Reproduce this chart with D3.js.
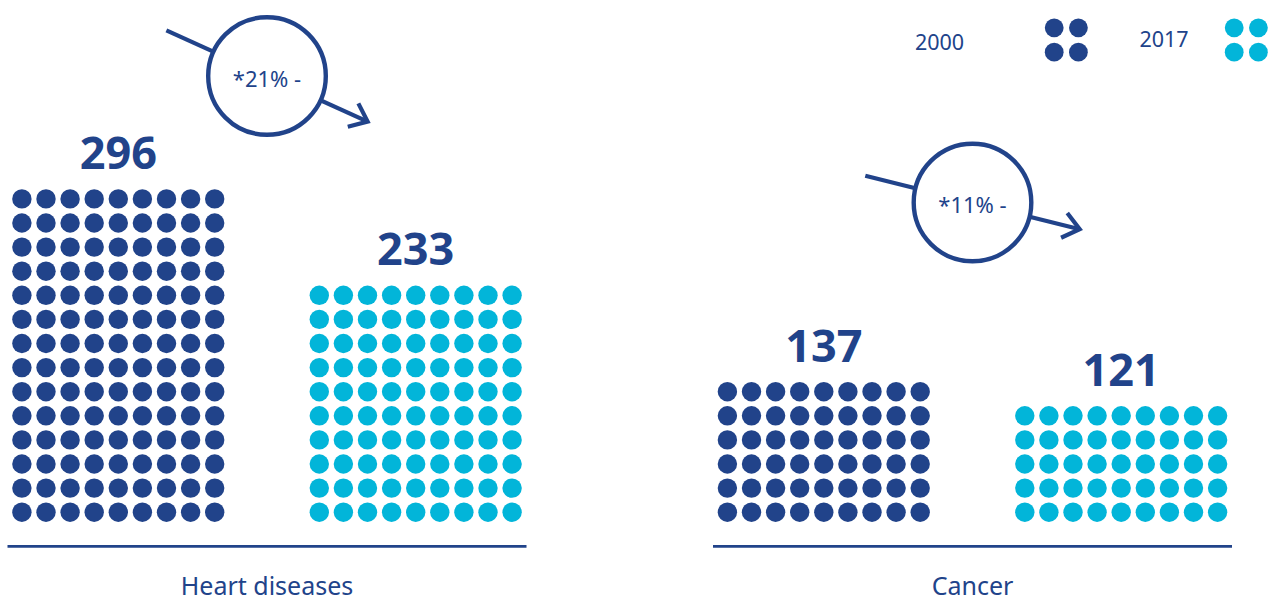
<!DOCTYPE html>
<html>
<head>
<meta charset="utf-8">
<script src="https://cdn.jsdelivr.net/npm/d3@7/dist/d3.min.js"></script>
<style>
  html, body { margin: 0; padding: 0; background: #ffffff; }
  svg { display: block; }
  text { font-family: "Noto Sans", "Open Sans", sans-serif; }
</style>
</head>
<body>
<svg id="chart" width="1271" height="602"></svg>
<script>
// ---- data ----
const categories = ["Heart diseases", "Cancer"];
const years = ["2000", "2017"];
const values2000 = [296, 137];
const values2017 = [233, 121];
const dotRows2000 = [14, 6];   // rows of dots per category, 2000
const dotRows2017 = [10, 5];   // rows of dots per category, 2017
const dotColumns = 9;
const changeLabels = ["*21% -", "*11% -"];
const arrowAngles = [24.4, 14];  // degrees of the trend arrow

// ---- styles ----
const DARK = "#21438a";
const CYAN = "#02b5d9";
const colors = { "2000": DARK, "2017": CYAN };

const svg = d3.select("#chart");

// ---- scales ----
const xCat = d3.scalePoint().domain(categories).range([267, 972.5]);
const xYear = d3.scalePoint().domain(years).range([-148.7, 148.7]);
const xCol = d3.scaleLinear().domain([0, dotColumns - 1]).range([-96.4, 96.4]);
const yRow = d3.scaleLinear().domain([0, 13]).range([512.2, 198.9]);
const R = 9.7;

const rows = { "2000": dotRows2000, "2017": dotRows2017 };
const vals = { "2000": values2000, "2017": values2017 };

// ---- dot blocks ----
categories.forEach((cat, ci) => {
  const g = svg.append("g").attr("class", "category");
  years.forEach(yr => {
    const nRows = rows[yr][ci];
    const cells = [];
    for (let r = 0; r < nRows; r++) {
      for (let c = 0; c < dotColumns; c++) cells.push({ r, c });
    }
    const cx0 = xCat(cat) + xYear(yr);
    g.selectAll(null).data(cells).enter().append("circle")
      .attr("cx", d => cx0 + xCol(d.c))
      .attr("cy", d => yRow(d.r))
      .attr("r", R)
      .attr("fill", colors[yr]);
    // value label
    g.append("text")
      .attr("x", cx0)
      .attr("y", yRow(nRows - 1) - 30)
      .attr("text-anchor", "middle")
      .attr("font-size", 45)
      .attr("font-weight", 700)
      .attr("fill", DARK)
      .text(vals[yr][ci]);
  });

  // baseline
  g.append("line")
    .attr("x1", xCat(cat) - 259.5).attr("x2", xCat(cat) + 259.5)
    .attr("y1", 546.3).attr("y2", 546.3)
    .attr("stroke", DARK).attr("stroke-width", 2.7);

  // category label
  g.append("text")
    .attr("x", xCat(cat))
    .attr("y", 595)
    .attr("text-anchor", "middle")
    .attr("font-size", 25)
    .attr("fill", DARK)
    .text(cat);
});

// ---- trend arrows with circles ----
const circleCY = [76, 202.5];
categories.forEach((cat, ci) => {
  const cx = xCat(cat), cy = circleCY[ci];
  const a = arrowAngles[ci] * Math.PI / 180;
  const ux = Math.cos(a), uy = Math.sin(a);
  const L = 110.5;
  const g = svg.append("g").attr("class", "trend");
  g.append("line")
    .attr("x1", cx - ux * L).attr("y1", cy - uy * L)
    .attr("x2", cx + ux * L).attr("y2", cy + uy * L)
    .attr("stroke", DARK).attr("stroke-width", 4.2);
  const tx = cx + ux * L, ty = cy + uy * L;
  const back = 16, side = 12.8;
  const px = -uy, py = ux;
  g.append("path")
    .attr("d", d3.line()([
      [tx - ux * back + px * side, ty - uy * back + py * side],
      [tx, ty],
      [tx - ux * back - px * side, ty - uy * back - py * side]
    ]))
    .attr("fill", "none").attr("stroke", DARK).attr("stroke-width", 4.2)
    .attr("stroke-linejoin", "miter");
  g.append("circle")
    .attr("cx", cx).attr("cy", cy).attr("r", 58.8)
    .attr("fill", "#ffffff").attr("stroke", DARK).attr("stroke-width", 4.4);
  g.append("text")
    .attr("x", cx).attr("y", cy + 10.5)
    .attr("text-anchor", "middle")
    .attr("font-size", 22)
    .attr("fill", DARK)
    .text(changeLabels[ci]);
});

// ---- legend ----
const legendTextX = { "2000": 939.5, "2017": 1164 };
const legendTextY = { "2000": 50, "2017": 46.7 };
const legendDotX = { "2000": 1054.2, "2017": 1234.2 };
const legend = svg.append("g").attr("class", "legend");
years.forEach(yr => {
  legend.append("text")
    .attr("x", legendTextX[yr]).attr("y", legendTextY[yr])
    .attr("text-anchor", "middle")
    .attr("font-size", 21.5)
    .attr("fill", DARK)
    .text(yr);
  const cells = [[0, 0], [1, 0], [0, 1], [1, 1]];
  legend.selectAll(null).data(cells).enter().append("circle")
    .attr("cx", d => legendDotX[yr] + d[0] * 24.2)
    .attr("cy", d => 27.8 + d[1] * 24.4)
    .attr("r", 9.4)
    .attr("fill", colors[yr]);
});
</script>
</body>
</html>
